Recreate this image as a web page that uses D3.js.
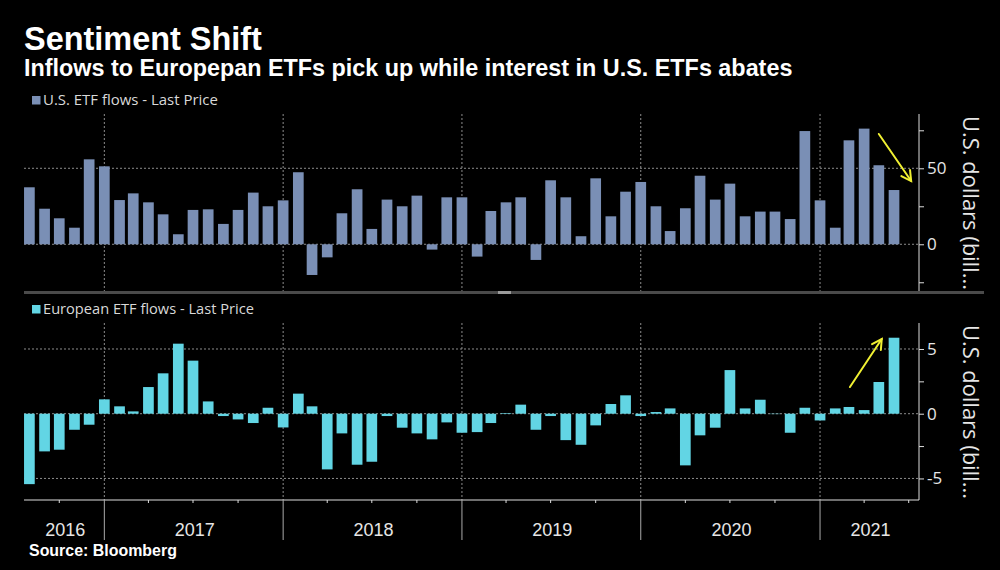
<!DOCTYPE html>
<html><head><meta charset="utf-8">
<script src="https://cdn.jsdelivr.net/npm/d3@7"></script>
<style>body{margin:0;background:#000}svg{display:block}</style>
</head><body>
<svg id="c" width="1000" height="570"></svg>
<script>
const months = ["2016-07","2016-08","2016-09","2016-10","2016-11","2016-12",
"2017-01","2017-02","2017-03","2017-04","2017-05","2017-06","2017-07","2017-08","2017-09","2017-10","2017-11","2017-12",
"2018-01","2018-02","2018-03","2018-04","2018-05","2018-06","2018-07","2018-08","2018-09","2018-10","2018-11","2018-12",
"2019-01","2019-02","2019-03","2019-04","2019-05","2019-06","2019-07","2019-08","2019-09","2019-10","2019-11","2019-12",
"2020-01","2020-02","2020-03","2020-04","2020-05","2020-06","2020-07","2020-08","2020-09","2020-10","2020-11","2020-12",
"2021-01","2021-02","2021-03","2021-04","2021-05"];
const usFlows = [37.5,23.4,17.1,10.9,55.9,51.3,
29.1,33.5,27.6,19.7,6.6,22.6,23.0,13.4,22.6,34.0,25.0,28.9,
47.4,-20.2,-8.6,20.4,36.2,10.1,29.4,25.0,32.0,-3.5,30.9,30.9,
-8.1,21.9,27.6,30.9,-10.3,42.1,30.9,5.3,43.4,18.4,34.6,41.0,
25.0,8.7,23.7,45.1,29.4,39.9,18.4,21.5,21.5,16.6,74.5,28.9,
10.9,68.4,76.1,52.0,35.7];
const euFlows = [-5.44,-2.91,-2.78,-1.24,-0.85,1.11,
0.57,0.18,2.06,3.12,5.41,4.10,0.95,-0.18,-0.44,-0.72,0.46,-1.06,
1.55,0.57,-4.30,-1.52,-3.94,-3.71,-0.18,-1.08,-1.52,-1.98,-0.67,-1.47,
-1.42,-0.72,0.05,0.70,-1.24,-0.18,-2.04,-2.40,-0.90,0.75,1.42,-0.18,
0.13,0.41,-3.99,-1.67,-1.08,3.37,0.41,1.08,-0.03,-1.47,0.46,-0.52,
0.41,0.52,0.28,2.45,5.87];
const years = ["2016","2017","2018","2019","2020","2021"];
const usTicksMajor = [0,50], usTicksMinor = [-25,25,75];
const euTicksMajor = [-5,0,5], euTicksMinor = [-2.5,2.5];
const title = "Sentiment Shift";
const subtitle = "Inflows to Europepan ETFs pick up while interest in U.S. ETFs abates";
const usLabel = "U.S. ETF flows - Last Price";
const euLabel = "European ETF flows - Last Price";
const axisTitle = "U.S. dollars (bill...";
const source = "Source: Bloomberg";
// annotation arrows in data units [date, value]
const usArrow = [["2021-04-30",72.6],["2021-07-05",41.6]];
const euArrow = [["2021-03-02",2.06],["2021-05-06",5.77]];

const usColor = "#7a8fb5", euColor = "#62d5e4", gridColor = "#8c8c8c";
const FONT = "'Open Sans', 'Liberation Sans', sans-serif";
const BFONT = "'Liberation Sans', Arial, sans-serif";
const svg = d3.select("#c");
svg.append("rect").attr("width",1000).attr("height",570).attr("fill","#000");

const parse = d3.utcParse("%Y-%m-%d");
const monthEnd = m => { const [y,mo]=m.split("-").map(Number); return new Date(Date.UTC(y,mo,0)); };
const x = d3.scaleUtc().domain([Date.UTC(2016,6,20), Date.UTC(2021,6,21)]).range([24,919]);
const yUS = d3.scaleLinear().domain([-31.4,85]).range([292,115.1]);
const yEU = d3.scaleLinear().domain([-6.65,7]).range([499.8,323.1]);
const barW = 10.7;
const yearEnds = years.slice(0,5).map(y => Date.UTC(+y,11,31));

function fitText(sel, w){ const n=sel.node(); const l=n.getComputedTextLength(); const fs=parseFloat(sel.attr("font-size")); sel.attr("font-size", fs*w/l); return sel; }

// titles
fitText(svg.append("text").attr("x",24).attr("y",50).attr("fill","#fff").attr("font-family",BFONT).attr("font-weight",700).attr("font-size",28).text(title),238);
fitText(svg.append("text").attr("x",24).attr("y",76).attr("fill","#fff").attr("font-family",BFONT).attr("font-weight",700).attr("font-size",20).text(subtitle),769);

function panel(data, y, color, ticksMajor, ticksMinor, top, bottom, label, legendY){
  const g = svg.append("g");
  g.selectAll(".hg").data(ticksMajor).join("line")
    .attr("x1",24).attr("x2",919).attr("y1",d=>y(d)).attr("y2",d=>y(d))
    .attr("stroke",gridColor).attr("stroke-width",1).attr("stroke-dasharray","2,2");
  g.selectAll(".vg").data(yearEnds).join("line")
    .attr("x1",d=>x(d)).attr("x2",d=>x(d)).attr("y1",top).attr("y2",bottom)
    .attr("stroke",gridColor).attr("stroke-width",1).attr("stroke-dasharray","2,2");
  g.selectAll(".bar").data(data).join("rect")
    .attr("x",(d,i)=>x(monthEnd(months[i]))-barW/2).attr("width",barW)
    .attr("y",d=>y(Math.max(0,d))).attr("height",d=>Math.abs(y(d)-y(0)))
    .attr("fill",color);
  const ax = g.append("g").attr("transform","translate(919,0)")
    .call(d3.axisRight(y).tickValues(ticksMajor.concat(ticksMinor)).tickSize(5).tickPadding(3).tickFormat(d=>ticksMajor.includes(d)?d3.format("d")(d):""));
  ax.select(".domain").attr("stroke","#ddd").attr("d",`M0,${top}V${bottom}`);
  ax.selectAll(".tick line").attr("stroke","#ddd");
  ax.selectAll("text").attr("fill","#e6e6e6").attr("font-family",FONT).attr("font-size",17).text(function(){return d3.select(this).text().replace("−","-");});
  fitText(g.append("text").attr("transform",`translate(963,${top+2}) rotate(90)`).attr("fill","#e6e6e6")
    .attr("font-family",FONT).attr("font-size",20).text(axisTitle),174);
  g.append("rect").attr("x",32).attr("y",legendY-9).attr("width",8.5).attr("height",8.5).attr("fill",color);
  fitText(g.append("text").attr("x",43).attr("y",legendY).attr("fill","#d9d9d9").attr("font-family",FONT).attr("font-size",14).text(label), label===usLabel?175:211);
}
panel(usFlows, yUS, usColor, usTicksMajor, usTicksMinor, 114, 292, usLabel, 105);
panel(euFlows, yEU, euColor, euTicksMajor, euTicksMinor, 323, 500, euLabel, 314);

// separator
svg.append("rect").attr("x",24).attr("y",291).attr("width",960).attr("height",3).attr("fill","#4a4a4a");
svg.append("rect").attr("x",498).attr("y",291).attr("width",13).attr("height",3).attr("fill","#9a9a9a");

// bottom time axis
const xa = svg.append("g").attr("transform","translate(0,500)");
xa.append("line").attr("x1",24).attr("x2",919).attr("stroke","#ddd").attr("stroke-width",1.2);
const qs = [];
for (let yy=2016; yy<=2021; yy++) for (const mo of [3,6,9]) { const d = Date.UTC(yy,mo,0); if (d> x.domain()[0] && d < x.domain()[1]) qs.push(d); }
xa.selectAll(".qt").data(qs).join("line").attr("x1",d=>x(d)).attr("x2",d=>x(d)).attr("y1",0).attr("y2",3).attr("stroke","#ddd");
xa.selectAll(".yt").data(yearEnds).join("line").attr("x1",d=>x(d)).attr("x2",d=>x(d)).attr("y1",0).attr("y2",40).attr("stroke","#aaa");
xa.selectAll(".yl").data(years).join("text")
  .attr("x",(d)=>{ const a=Math.max(x.range()[0], x(Date.UTC(+d-1,11,31))); const b=Math.min(x.range()[1], x(Date.UTC(+d,11,31))); return (a+b)/2+1; })
  .attr("y",36).attr("text-anchor","middle").attr("fill","#e6e6e6").attr("font-family",BFONT).attr("font-size",18).text(d=>d);

// source
fitText(svg.append("text").attr("x",29).attr("y",556).attr("fill","#fff").attr("font-family",BFONT).attr("font-weight",700).attr("font-size",14).text(source),148);

// arrows
function arrow(pts, y){
  const [p0,p1] = pts.map(p=>[x(parse(p[0])), y(p[1])]);
  const g = svg.append("g").attr("stroke","#f0f032").attr("stroke-width",2).attr("fill","none").attr("stroke-linecap","round");
  g.append("line").attr("x1",p0[0]).attr("y1",p0[1]).attr("x2",p1[0]).attr("y2",p1[1]);
  const ang = Math.atan2(p1[1]-p0[1], p1[0]-p0[0]), L=11, s=0.5;
  const h = [ang+Math.PI-s, ang+Math.PI+s].map(a=>[p1[0]+L*Math.cos(a), p1[1]+L*Math.sin(a)]);
  g.append("path").attr("d",`M${h[0][0]},${h[0][1]}L${p1[0]},${p1[1]}L${h[1][0]},${h[1][1]}`);
}
arrow(usArrow, yUS);
arrow(euArrow, yEU);
</script>
</body></html>
